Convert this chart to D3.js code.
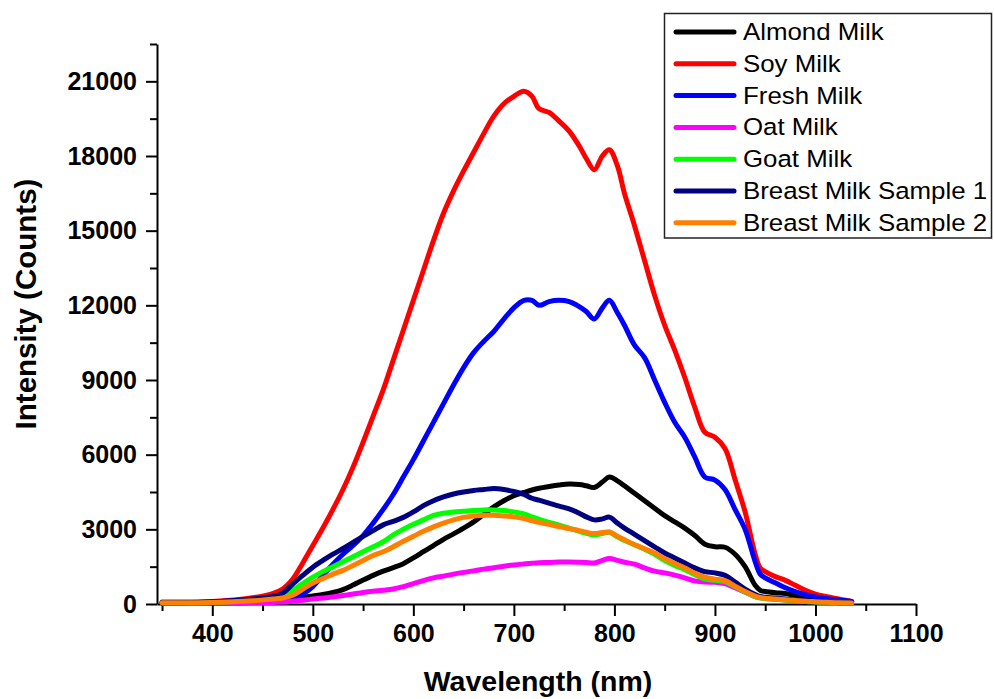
<!DOCTYPE html>
<html>
<head>
<meta charset="utf-8">
<script src="https://cdn.jsdelivr.net/npm/d3@7"></script>
<style>
  body { margin: 0; background: #fff; }
</style>
</head>
<body>
<div id="chart"></div>
<script>
// wavelength grid (nm), shared by every series
const wavelength = [350, 400, 440, 460, 470, 480, 490, 500, 510, 520, 530, 540, 550, 560, 570, 580, 590, 600,
    610, 620, 630, 640, 650, 660, 670, 680, 690, 700, 710, 718, 725, 735, 745, 755, 765, 772, 780, 788, 795, 803,
    810, 820, 830, 840, 850, 860, 870, 880, 890, 900, 910, 920, 930, 940, 945, 950, 960, 970, 980, 990, 1000,
    1010, 1020, 1030, 1036];

const almondMilk = [40, 50, 60, 80, 100, 180, 260, 320, 380, 460, 580, 760, 960, 1150, 1320, 1460, 1620, 1850,
    2100, 2350, 2600, 2820, 3050, 3300, 3600, 3900, 4150, 4350, 4480, 4580, 4650, 4720, 4780, 4820, 4800, 4750,
    4680, 4900, 5100, 4950, 4750, 4450, 4150, 3850, 3550, 3300, 3050, 2750, 2400, 2300, 2280, 2000, 1500, 750,
    550, 500, 450, 420, 350, 280, 230, 180, 140, 100, 80];

const soyMilk = [80, 100, 250, 420, 600, 1000, 1650, 2350, 3050, 3800, 4600, 5500, 6500, 7550, 8600, 9800, 11000,
    12200, 13400, 14600, 15700, 16600, 17400, 18150, 18900, 19600, 20100, 20400, 20600, 20400, 19900, 19750,
    19400, 19000, 18400, 17900, 17450, 18000, 18250, 17600, 16500, 15200, 13800, 12400, 11200, 10200, 9100,
    7900, 6900, 6700, 6250, 5000, 3700, 2000, 1450, 1300, 1100, 950, 750, 550, 400, 300, 220, 150, 100];

const freshMilk = [50, 80, 150, 150, 170, 200, 400, 700, 1150, 1600, 2000, 2350, 2750, 3250, 3800, 4400, 5100,
    5800, 6550, 7300, 8050, 8800, 9500, 10100, 10550, 10950, 11450, 11900, 12200, 12200, 12000, 12150, 12200,
    12150, 11950, 11750, 11450, 11900, 12200, 11700, 11200, 10400, 9900, 9000, 8100, 7300, 6700, 5900, 5100,
    4980, 4600, 3800, 3000, 1700, 1200, 1050, 850, 650, 500, 380, 280, 220, 170, 130, 100];

const oatMilk = [40, 50, 60, 60, 80, 110, 150, 200, 240, 280, 340, 400, 460, 510, 550, 600, 700, 820, 940, 1050,
    1120, 1200, 1270, 1330, 1400, 1460, 1520, 1570, 1610, 1640, 1660, 1670, 1690, 1690, 1680, 1670, 1650, 1750,
    1830, 1750, 1680, 1600, 1450, 1320, 1250, 1160, 1050, 930, 880, 870, 820, 650, 470, 300, 250, 220, 190, 160,
    130, 110, 90, 80, 70, 60, 50];

const goatMilk = [50, 60, 150, 250, 350, 550, 820, 1080, 1300, 1500, 1700, 1900, 2100, 2300, 2500, 2780, 3000,
    3200, 3380, 3560, 3650, 3700, 3730, 3760, 3780, 3780, 3760, 3700, 3620, 3500, 3400, 3280, 3170, 3050, 2920,
    2840, 2770, 2830, 2880, 2700, 2550, 2380, 2200, 2000, 1750, 1550, 1380, 1180, 1000, 950, 900, 700, 480, 300,
    250, 220, 190, 160, 130, 100, 80, 60, 50, 40, 30];

const breastMilk1 = [60, 80, 200, 300, 440, 800, 1150, 1480, 1750, 2000, 2230, 2480, 2720, 2950, 3180, 3320, 3480,
    3700, 3950, 4150, 4300, 4420, 4500, 4560, 4600, 4640, 4600, 4520, 4400, 4250, 4170, 4050, 3930, 3820, 3650,
    3500, 3380, 3420, 3490, 3250, 3050, 2800, 2550, 2300, 2050, 1850, 1650, 1450, 1300, 1250, 1150, 880, 600,
    380, 300, 270, 240, 200, 170, 130, 100, 80, 60, 50, 40];

const breastMilk2 = [50, 60, 130, 200, 240, 350, 600, 840, 1020, 1200, 1350, 1550, 1750, 1950, 2100, 2300, 2520,
    2720, 2920, 3100, 3250, 3380, 3480, 3540, 3560, 3570, 3540, 3500, 3430, 3350, 3280, 3200, 3110, 3030, 2950,
    2880, 2830, 2870, 2890, 2720, 2580, 2380, 2220, 2050, 1820, 1630, 1450, 1230, 1080, 1000, 940, 720, 500, 320,
    260, 230, 200, 170, 140, 110, 90, 70, 55, 45, 35];

const seriesNames = ["Almond Milk", "Soy Milk", "Fresh Milk", "Oat Milk", "Goat Milk",
    "Breast Milk Sample 1", "Breast Milk Sample 2"];
const seriesValues = [almondMilk, soyMilk, freshMilk, oatMilk, goatMilk, breastMilk1, breastMilk2];
const seriesColors = ["#000000", "#ff0000", "#0000ff", "#ff00ff", "#00ff00", "#000080", "#ff8000"];

const xTicks = [400, 500, 600, 700, 800, 900, 1000, 1100];
const xMinorTicks = [350, 450, 550, 650, 750, 850, 950, 1050];
const yTicks = [0, 3000, 6000, 9000, 12000, 15000, 18000, 21000];
const yMinorTicks = [1500, 4500, 7500, 10500, 13500, 16500, 19500, 22500];

function chart() {
    const width = 994,
        height = 699;
    const font = "'Liberation Sans', Arial, sans-serif";

    const svg = d3.select("#chart").append("svg")
        .attr("width", width)
        .attr("height", height)
        .style("font-family", font);

    const x = d3.scaleLinear().domain([345, 1100]).range([157, 916]);
    const y = d3.scaleLinear().domain([0, 22500]).range([604, 44]);

    // minor ticks first, major axes drawn over them
    svg.append("g")
        .attr("transform", `translate(0,${y(0)})`)
        .call(d3.axisBottom(x).tickValues(xMinorTicks).tickSize(7).tickFormat(""))
        .call(g => g.select(".domain").remove())
        .selectAll("line").attr("stroke-width", 2);

    svg.append("g")
        .attr("transform", `translate(${x(345)},0)`)
        .call(d3.axisLeft(y).tickValues(yMinorTicks).tickSize(7).tickFormat(""))
        .call(g => g.select(".domain").remove())
        .selectAll("line").attr("stroke-width", 2);

    const xAxis = svg.append("g")
        .attr("transform", `translate(0,${y(0)})`)
        .call(d3.axisBottom(x).tickValues(xTicks).tickFormat(d3.format("d"))
            .tickSize(12).tickSizeOuter(0).tickPadding(8));

    const yAxis = svg.append("g")
        .attr("transform", `translate(${x(345)},0)`)
        .call(d3.axisLeft(y).tickValues(yTicks).tickFormat(d3.format("d"))
            .tickSize(11).tickSizeOuter(0).tickPadding(9));

    [xAxis, yAxis].forEach(g => {
        g.select(".domain").attr("stroke-width", 2);
        g.selectAll(".tick line").attr("stroke-width", 2);
        g.selectAll(".tick text")
            .attr("fill", "#000")
            .style("font-family", font)
            .style("font-size", "25px")
            .style("font-weight", "bold");
    });

    // axis titles
    svg.append("text")
        .attr("x", 538)
        .attr("y", 691)
        .attr("text-anchor", "middle")
        .style("font-size", "28.5px")
        .style("font-weight", "bold")
        .text("Wavelength (nm)");

    svg.append("text")
        .attr("transform", "translate(36,304) rotate(-90)")
        .attr("text-anchor", "middle")
        .style("font-size", "29.5px")
        .style("font-weight", "bold")
        .text("Intensity (Counts)");

    // spectra
    const line = d3.line()
        .x((d, i) => x(wavelength[i]))
        .y(d => y(d))
        .curve(d3.curveCatmullRom.alpha(0.5));

    svg.append("g")
        .attr("fill", "none")
        .attr("stroke-width", 5)
        .attr("stroke-linejoin", "round")
        .attr("stroke-linecap", "round")
        .selectAll("path")
        .data(seriesValues)
        .join("path")
        .attr("stroke", (d, i) => seriesColors[i])
        .attr("d", line);

    // legend
    const legend = svg.append("g");
    legend.append("rect")
        .attr("x", 664.5)
        .attr("y", 13.5)
        .attr("width", 327)
        .attr("height", 224.5)
        .attr("fill", "white")
        .attr("stroke", "#222")
        .attr("stroke-width", 1.5);

    const rows = legend.selectAll("g.row")
        .data(seriesNames)
        .join("g")
        .attr("class", "row")
        .attr("transform", (d, i) => `translate(0,${32 + i * 31.8})`);

    rows.append("line")
        .attr("x1", 676)
        .attr("x2", 734)
        .attr("stroke", (d, i) => seriesColors[i])
        .attr("stroke-width", 5)
        .attr("stroke-linecap", "round");

    // the source figure is slightly stretched sideways, so the legend text is too
    rows.append("text")
        .attr("transform", "translate(743,8) scale(1.1,1)")
        .style("font-size", "23.5px")
        .text(d => d);
}

window.onload = function() {
    chart();
};
</script>
</body>
</html>
